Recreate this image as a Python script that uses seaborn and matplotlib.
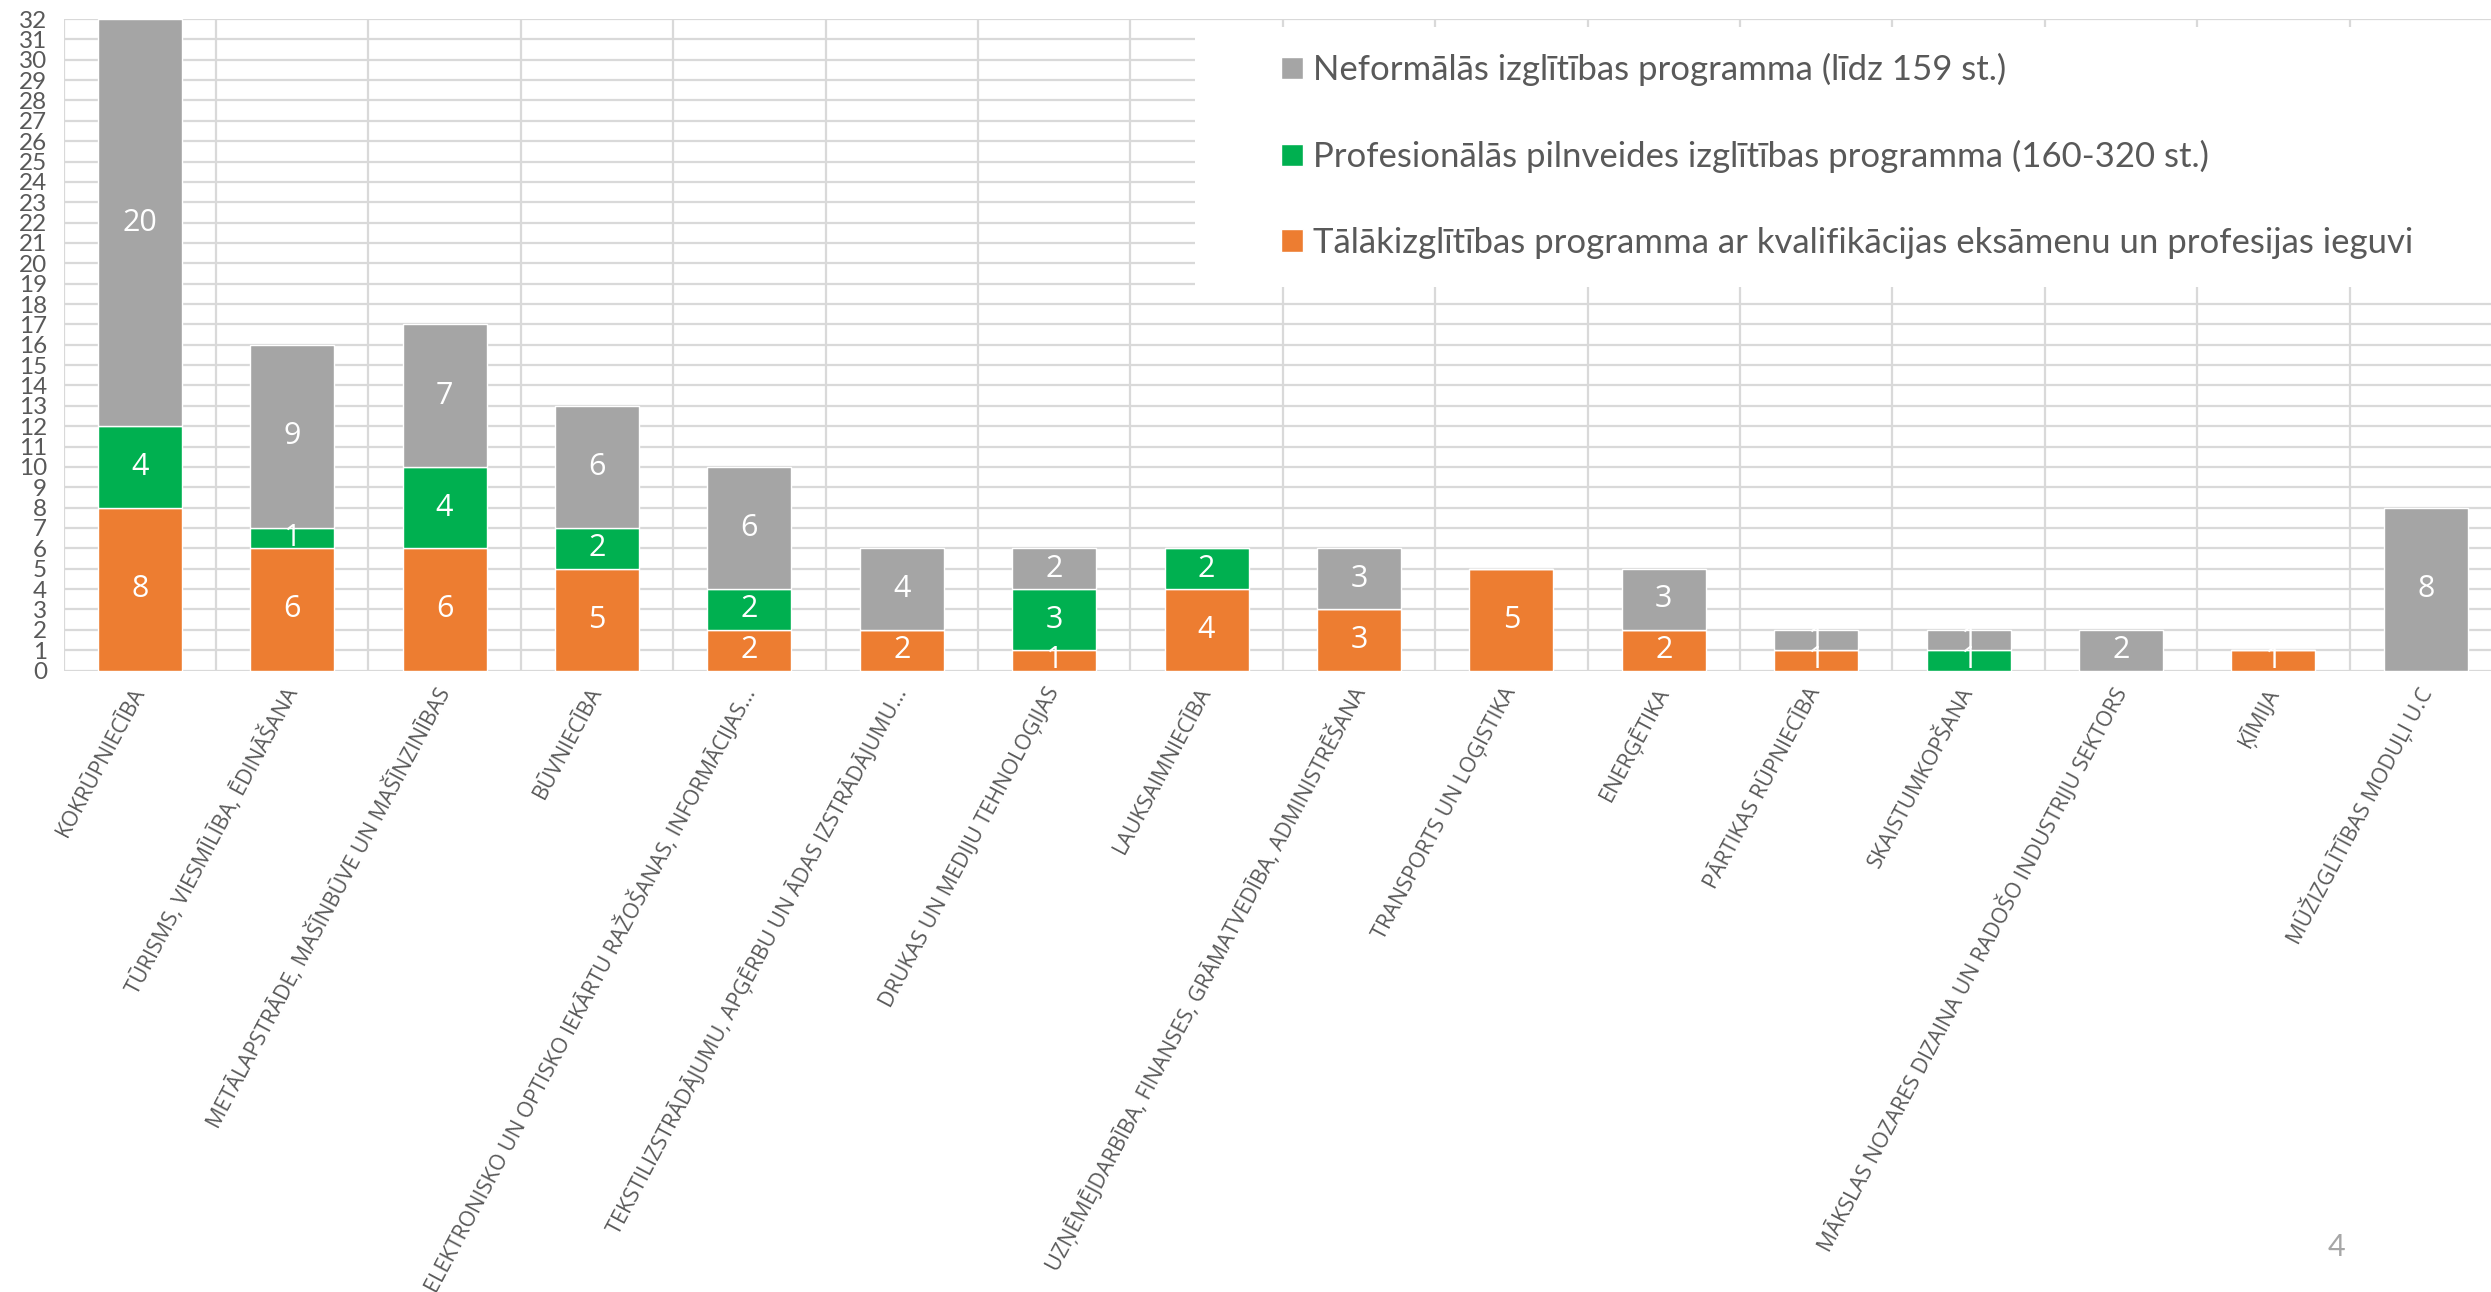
import matplotlib
matplotlib.use("Agg")
import matplotlib.pyplot as plt
import matplotlib.patches as mpatches
import pandas as pd
import seaborn as sns

# categories along x (nozares)
categories = [
    "KOKRŪPNIECĪBA",
    "TŪRISMS, VIESMĪLĪBA, ĒDINĀŠANA",
    "METĀLAPSTRĀDE, MAŠĪNBŪVE UN MAŠĪNZINĪBAS",
    "BŪVNIECĪBA",
    "ELEKTRONISKO UN OPTISKO IEKĀRTU RAŽOŠANAS, INFORMĀCIJAS...",
    "TEKSTILIZSTRĀDĀJUMU, APĢĒRBU UN ĀDAS IZSTRĀDĀJUMU...",
    "DRUKAS UN MEDIJU TEHNOLOĢIJAS",
    "LAUKSAIMNIECĪBA",
    "UZŅĒMĒJDARBĪBA, FINANSES, GRĀMATVEDĪBA, ADMINISTRĒŠANA",
    "TRANSPORTS UN LOĢISTIKA",
    "ENERĢĒTIKA",
    "PĀRTIKAS RŪPNIECĪBA",
    "SKAISTUMKOPŠANA",
    "MĀKSLAS NOZARES DIZAINA UN RADOŠO INDUSTRIJU SEKTORS",
    "ĶĪMIJA",
    "MŪŽIZGLĪTĪBAS MODUĻI U.C",
]

# series values (bottom -> top)
talakizglitiba = [8, 6, 6, 5, 2, 2, 1, 4, 3, 5, 2, 1, 0, 0, 1, 0]
profesionalas = [4, 1, 4, 2, 2, 0, 3, 2, 0, 0, 0, 0, 1, 0, 0, 0]
neformalas = [20, 9, 7, 6, 6, 4, 2, 0, 3, 0, 3, 1, 1, 2, 0, 8]

label_talak = "Tālākizglītības programma ar kvalifikācijas eksāmenu un profesijas ieguvi"
label_prof = "Profesionālās pilnveides izglītības programma (160-320 st.)"
label_neform = "Neformālās izglītības programma (līdz 159 st.)"

y_ticks = list(range(0, 33))
page_number = "4"

ORANGE = "#ED7D31"
GREEN = "#00B050"
GRAY = "#A5A5A5"
GRID = "#D9D9D9"
TEXT = "#595959"


def main():
    sns.set_style("white")
    plt.rcParams["font.family"] = ["Lato", "DejaVu Sans"]

    df = pd.DataFrame({
        "nozare": categories,
        "talak": talakizglitiba,
        "prof": profesionalas,
        "neform": neformalas,
    })
    df["bottom_prof"] = df["talak"]
    df["bottom_neform"] = df["talak"] + df["prof"]

    W, H = 2491, 1292
    fig = plt.figure(figsize=(W / 100, H / 100), dpi=100)
    ax = fig.add_axes([63.6 / W, 621.5 / H, 2438.4 / W, 651.5 / H])

    layers = [
        ("talak", None, ORANGE, label_talak),
        ("prof", "bottom_prof", GREEN, label_prof),
        ("neform", "bottom_neform", GRAY, label_neform),
    ]
    containers = {}
    for col, bottom_col, color, label in layers:
        kws = {}
        if bottom_col is not None:
            kws["bottom"] = df[bottom_col].to_numpy()
        sns.barplot(
            data=df, x="nozare", y=col, color=color, saturation=1,
            width=0.55, errorbar=None, ax=ax, zorder=2, **kws
        )
        cont = ax.containers[-1]
        containers[col] = cont
        ax.bar_label(
            cont,
            labels=[str(v) if v else "" for v in df[col]],
            label_type="center", color="white", fontsize=22,
            family=["Open Sans", "DejaVu Sans"],
        )

    ax.set_xlim(-0.5, len(categories) - 0.5)
    ax.set_ylim(0, 32)
    ax.set_yticks(y_ticks)
    ax.set_yticklabels([str(t) for t in y_ticks])
    ax.set_xticks(range(len(categories)))
    ax.set_xticklabels(
        categories, rotation=62, ha="right", va="center",
        rotation_mode="anchor", fontsize=15.5, color=TEXT,
        family=["Open Sans", "DejaVu Sans"],
    )
    ax.set_xticks([i - 0.5 for i in range(len(categories) + 1)], minor=True)
    ax.tick_params(axis="x", which="major", length=0, pad=13)
    ax.tick_params(axis="x", which="minor", length=9, color=GRID, width=1.6)
    ax.tick_params(axis="y", length=8, color=GRID, width=1.6,
                   labelsize=17.5, labelcolor=TEXT, pad=4)
    ax.grid(False)
    ax.grid(axis="y", which="major", color=GRID, lw=1.6, zorder=0)
    ax.grid(axis="x", which="minor", color=GRID, lw=1.6, zorder=0)
    ax.set_axisbelow(True)
    for s in ax.spines.values():
        s.set_visible(False)
    ax.set_xlabel("")
    ax.set_ylabel("")

    # white legend area covering the gridlines
    bg = mpatches.Rectangle(
        (1195 / W, 1 - 287 / H), 1.0, 260 / H, transform=fig.transFigure,
        facecolor="white", edgecolor="none", zorder=1.5, clip_on=False,
    )
    ax.add_patch(bg)

    leg = ax.legend(
        handles=[containers["neform"], containers["prof"], containers["talak"]],
        labels=[label_neform, label_prof, label_talak],
        loc="upper left", bbox_to_anchor=(1281 / W, 1 - 53 / H),
        bbox_transform=fig.transFigure, frameon=False, fontsize=25,
        handlelength=0.62, handleheight=0.62, handletextpad=0.3,
        labelspacing=1.55, borderpad=0, borderaxespad=0, labelcolor=TEXT,
    )
    leg.set_zorder(5)

    fig.text(2336 / W, 1 - 1247 / H, page_number, fontsize=22,
             color="#A6A6A6", ha="center", va="center")

    fig.savefig("out.png", dpi=100)
    plt.close(fig)


if __name__ == "__main__":
    main()
